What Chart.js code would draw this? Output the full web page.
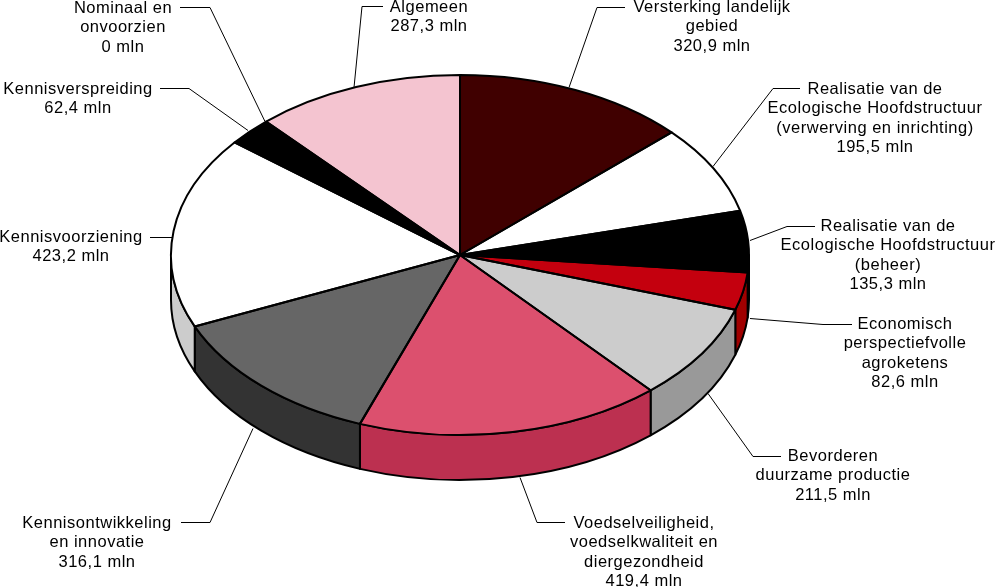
<!DOCTYPE html>
<html>
<head>
<meta charset="utf-8">
<title>Begroting</title>
<script src="https://cdn.jsdelivr.net/npm/chart.js@4"></script>
<style>
  html, body { margin: 0; padding: 0; background: #fff; overflow: hidden; }
  canvas { display: block; }
</style>
</head>
<body>
<canvas id="pie" width="995" height="587"></canvas>
<script>
const categories = [
  'Versterking landelijk gebied',
  'Realisatie EHS (verwerving en inrichting)',
  'Realisatie EHS (beheer)',
  'Economisch perspectiefvolle agroketens',
  'Bevorderen duurzame productie',
  'Voedselveiligheid, voedselkwaliteit en diergezondheid',
  'Kennisontwikkeling en innovatie',
  'Kennisvoorziening',
  'Kennisverspreiding',
  'Nominaal en onvoorzien',
  'Algemeen',
];
const values = [320.9, 195.5, 135.3, 82.6, 211.5, 419.4, 316.1, 423.2, 62.4, 0, 287.3];
const topColors = ['#400000', '#ffffff', '#000000', '#c4000e', '#cccccc', '#dc506e', '#666666', '#ffffff', '#000000', '#000000', '#f4c4d0'];
const wallColors = ['#300000', '#cccccc', '#000000', '#a00000', '#999999', '#bc3050', '#333333', '#cccccc', '#000000', '#000000', '#c0a0a8'];

const labelLines = [
  ['Versterking landelijk', 'gebied', '320,9 mln'],
  ['Realisatie van de', 'Ecologische Hoofdstructuur', '(verwerving en inrichting)', '195,5 mln'],
  ['Realisatie van de', 'Ecologische Hoofdstructuur', '(beheer)', '135,3 mln'],
  ['Economisch', 'perspectiefvolle', 'agroketens', '82,6 mln'],
  ['Bevorderen', 'duurzame productie', '211,5 mln'],
  ['Voedselveiligheid,', 'voedselkwaliteit en', 'diergezondheid', '419,4 mln'],
  ['Kennisontwikkeling', 'en innovatie', '316,1 mln'],
  ['Kennisvoorziening', '423,2 mln'],
  ['Kennisverspreiding', '62,4 mln'],
  ['Nominaal en', 'onvoorzien', '0 mln'],
  ['Algemeen', '287,3 mln'],
];

// page layout of the labels: centre x, y of first line, leader polyline
const labelPos = [
  { x: 712, y: 7, leader: [[625, 7], [597, 7], [569, 87]] },
  { x: 875, y: 89, leader: [[800, 88], [773, 88], [713, 166]] },
  { x: 888, y: 226, leader: [[815, 226], [787, 226], [750, 240]] },
  { x: 905, y: 324, leader: [[852, 324], [823, 324], [750, 318]] },
  { x: 833, y: 456, leader: [[781, 456], [753, 456], [708, 393]] },
  { x: 644, y: 523, leader: [[565, 522], [537, 522], [520, 477]] },
  { x: 97, y: 523, leader: [[181, 522], [210, 522], [253, 428]] },
  { x: 71, y: 237, leader: [[150, 237], [172, 237]] },
  { x: 78, y: 89, leader: [[160, 88], [189, 88], [248, 130]] },
  { x: 123, y: 8, leader: [[180, 7], [210, 7], [265, 121]] },
  { x: 429, y: 7, leader: [[383, 6], [362, 6], [354, 87]] },
];

const PIE = { cx: 460, cy: 255, rx: 289, ry: 180, depth: 45 };
const LINE_H = 19.5;

function slices(chart) {
  return chart.getDatasetMeta(0).data;
}

// draws the side of the disc, then sets the squashed transform for the top
const flatPie = {
  id: 'flatPie',
  beforeDatasetsDraw(chart) {
    const ctx = chart.ctx;
    const { cx, cy, rx, ry, depth } = PIE;
    ctx.save();
    ctx.lineWidth = 2;
    ctx.strokeStyle = '#000';
    ctx.lineJoin = 'round';
    slices(chart).forEach((arc, i) => {
      // only the front half of the disc shows a wall
      let a = arc.startAngle, b = arc.endAngle;
      if (b <= 0 || a >= Math.PI || b === a) return;
      a = Math.max(a, 0);
      b = Math.min(b, Math.PI);
      ctx.beginPath();
      ctx.ellipse(cx, cy, rx, ry, 0, a, b);
      ctx.ellipse(cx, cy + depth, rx, ry, 0, b, a, true);
      ctx.closePath();
      ctx.fillStyle = wallColors[i];
      ctx.fill();
      ctx.stroke();
    });
    ctx.restore();

    const el = slices(chart)[0];
    ctx.save();
    ctx.translate(cx, cy);
    ctx.scale(rx / el.outerRadius, ry / el.outerRadius);
    ctx.translate(-el.x, -el.y);
  },
  afterDatasetsDraw(chart) {
    const ctx = chart.ctx;
    const { cx, cy, rx, ry } = PIE;
    ctx.restore();

    // outlines in page pixels so the line width is not squashed
    ctx.save();
    ctx.lineWidth = 2;
    ctx.strokeStyle = '#000';
    ctx.lineJoin = 'round';
    slices(chart).forEach(arc => {
      if (arc.endAngle === arc.startAngle) return;
      ctx.beginPath();
      ctx.moveTo(cx, cy);
      ctx.ellipse(cx, cy, rx, ry, 0, arc.startAngle, arc.endAngle);
      ctx.closePath();
      ctx.stroke();
    });
    ctx.restore();

    // labels and leader lines
    ctx.save();
    ctx.fillStyle = '#000';
    ctx.strokeStyle = '#000';
    ctx.lineWidth = 1;
    ctx.font = '16.5px "Liberation Sans"';
    ctx.letterSpacing = '0.5px';
    ctx.textAlign = 'center';
    ctx.textBaseline = 'middle';
    labelPos.forEach((pos, i) => {
      labelLines[i].forEach((line, n) => ctx.fillText(line, pos.x, pos.y + n * LINE_H));
      ctx.beginPath();
      pos.leader.forEach(([x, y], n) => n ? ctx.lineTo(x, y + 0.5) : ctx.moveTo(x, y + 0.5));
      ctx.stroke();
    });
    ctx.restore();
  },
};

new Chart(document.getElementById('pie'), {
  type: 'pie',
  data: {
    labels: categories,
    datasets: [{ data: values, backgroundColor: topColors, borderWidth: 0 }],
  },
  options: {
    responsive: false,
    animation: false,
    plugins: { legend: { display: false }, tooltip: { enabled: false } },
  },
  plugins: [flatPie],
});
</script>
</body>
</html>
